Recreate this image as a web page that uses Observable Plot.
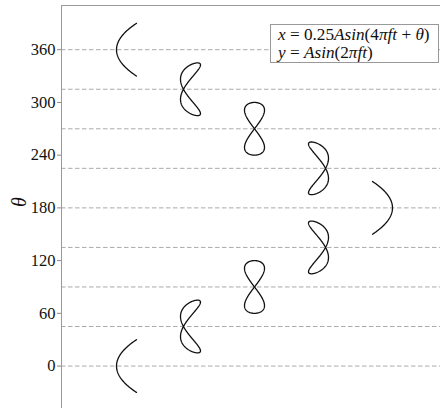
<!DOCTYPE html>
<html>
<head>
<meta charset="utf-8">
<script src="https://cdn.jsdelivr.net/npm/d3@7"></script>
<script src="https://cdn.jsdelivr.net/npm/@observablehq/plot@0.6"></script>
<style>
  html, body { margin: 0; padding: 0; background: #fff; }
  #wrap { position: relative; width: 440px; height: 408px; overflow: hidden; }
  .key {
    position: absolute; left: 270px; top: 24px; width: 167px; height: 37px;
    border: 1px solid #999; background: #fff; box-sizing: content-box;
    font-family: "Liberation Serif", "DejaVu Serif", serif; font-size: 17.2px;
    line-height: 18px; color: #111; padding: 0;
  }
  .key div { padding-left: 7px; white-space: nowrap; }
  .key div:first-child { margin-top: 1px; }
  .key i { font-style: italic; }
</style>
</head>
<body>
<div id="wrap"></div>
<script>
// Phase of each trace (degrees) and its horizontal slot
const thetas = [0, 45, 90, 135, 180, 225, 270, 315, 360];
const slots  = [0, 1, 2, 3, 4, 3, 2, 1, 0];
const yTicks = [0, 60, 120, 180, 240, 300, 360];

const A = 30;          // vertical amplitude, in θ units
const xAmp = 0.25;     // horizontal amplitude (fraction of A)
const slotStep = 1.6;  // spacing between slots, in A units
const f = 1;
const samples = 240;

// Sample each Lissajous figure over one period of the y oscillation
const curves = [];
thetas.forEach((th, i) => {
  const ph = (th - 90) * Math.PI / 180;
  for (let k = 0; k <= samples; k++) {
    const t = k / samples / f;
    curves.push({
      theta: th,
      x: slots[i] * slotStep + xAmp * Math.sin(4 * Math.PI * f * t + ph),
      y: th + A * Math.sin(2 * Math.PI * f * t)
    });
  }
});

const chart = Plot.plot({
  width: 440,
  height: 408,
  marginLeft: 61,
  marginRight: 0,
  marginTop: 5,
  marginBottom: 0,
  style: { fontFamily: "'Liberation Serif', 'DejaVu Serif', serif", fontSize: "16px", color: "#111", background: "#fff" },
  x: { domain: [-1.625, 7.85], axis: null },
  y: { domain: [-48.3, 410.3] },
  marks: [
    Plot.ruleY(thetas, { stroke: "#aaa", strokeWidth: 1, strokeDasharray: "4.5,2.5" }),
    Plot.line(curves, { x: "x", y: "y", z: "theta", stroke: "#111", strokeWidth: 1.3, curve: "linear" }),
    Plot.axisY(yTicks, { tickSize: 4, tickPadding: 2, label: null, stroke: "#888", fontSize: 16.5 }),
    Plot.frame({ anchor: "left", stroke: "#999" }),
    Plot.frame({ anchor: "top", stroke: "#999" }),
    Plot.text(["θ"], { frameAnchor: "left", dx: -42, rotate: -90, fontStyle: "italic", fontSize: 20, fill: "#111" })
  ]
});

const wrap = document.getElementById("wrap");
wrap.appendChild(chart);

const key = document.createElement("div");
key.className = "key";
key.innerHTML =
  '<div><i>x</i> = 0.25<i>Asin</i>(4<i>πft</i> + <i>θ</i>)</div>' +
  '<div><i>y</i> = <i>Asin</i>(2<i>πft</i>)</div>';
wrap.appendChild(key);
</script>
</body>
</html>
